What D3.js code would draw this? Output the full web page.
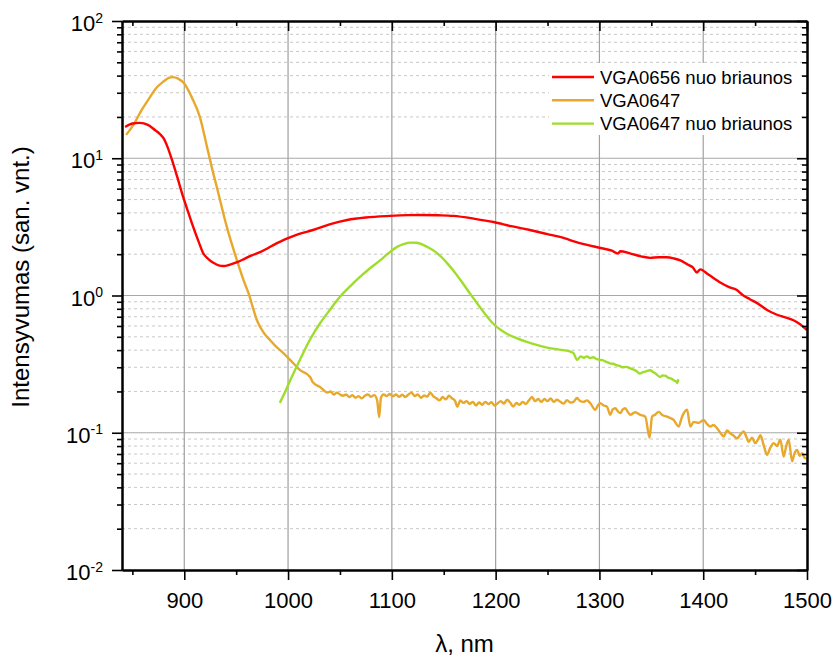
<!DOCTYPE html>
<html>
<head>
<meta charset="utf-8">
<script src="https://cdn.jsdelivr.net/npm/d3@7"></script>
<style>
  body { margin: 0; background: #fff; }
  svg { font-family: "Liberation Sans", Arial, sans-serif; }
</style>
</head>
<body>
<svg width="835" height="660"></svg>
<script>
// [wavelength nm, intensity]
const red656 = [
  [843, 16.9], [850, 17.9], [857, 18.1], [865, 17.5], [872, 16.0], [877, 14.9], [880, 14.0],
  [884, 12.0], [888, 9.8], [893, 7.4], [899, 5.2], [904, 4.0], [909, 3.1], [914, 2.45],
  [918, 2.05], [923, 1.85], [928, 1.73], [933, 1.66], [938, 1.64], [944, 1.68],
  [951, 1.75], [958, 1.85], [965, 1.96], [973, 2.07], [980, 2.2], [988, 2.38],
  [995, 2.52], [1000, 2.62], [1010, 2.8], [1024, 3.0], [1040, 3.3], [1057, 3.55],
  [1075, 3.7], [1098, 3.8], [1115, 3.85], [1127, 3.86], [1145, 3.84], [1159, 3.8],
  [1180, 3.62], [1198, 3.43], [1215, 3.2], [1233, 3.0], [1250, 2.8], [1262, 2.67],
  [1281, 2.41], [1290, 2.32], [1301, 2.22], [1312, 2.12], [1318, 2.02], [1320, 2.1],
  [1330, 2.02], [1340, 1.93], [1349, 1.88], [1357, 1.9], [1365, 1.9], [1372, 1.86],
  [1378, 1.8], [1385, 1.68], [1390, 1.6], [1394, 1.47], [1397, 1.55], [1405, 1.42],
  [1416, 1.25], [1425, 1.15], [1432, 1.1], [1438, 1.01], [1445, 0.94], [1452, 0.88],
  [1462, 0.78], [1470, 0.73], [1480, 0.69], [1487, 0.66], [1493, 0.62], [1500, 0.56]
];

const orange647 = [
  [844, 14.8], [851, 17.5], [859, 22.5], [867, 27.9], [873, 32.5], [879.5, 36],
  [885, 38.5], [889, 39], [894, 38], [900, 35], [907, 28], [915, 20], [922, 12],
  [927, 8.3], [932, 5.9], [941, 3.16], [951, 1.78], [957, 1.3], [963, 0.98],
  [966, 0.82], [970, 0.66], [977, 0.53], [983, 0.47], [989, 0.42], [992.3, 0.40],
  [1002, 0.34], [1011.6, 0.286], [1021.2, 0.255], [1024.1, 0.232], [1030.9, 0.215],
  [1034, 0.205], [1038, 0.196], [1041, 0.2], [1044, 0.19], [1047, 0.196], [1050, 0.19],
  [1053, 0.186], [1056, 0.19], [1059, 0.182], [1062, 0.188], [1065, 0.18], [1068, 0.185],
  [1071, 0.178], [1074, 0.186], [1077, 0.19], [1080, 0.183], [1083, 0.188], [1085.8, 0.173],
  [1087.8, 0.13], [1089.5, 0.18], [1092, 0.19], [1095, 0.185], [1098, 0.192], [1101, 0.184],
  [1104, 0.19], [1107, 0.183], [1110, 0.189], [1113, 0.182], [1116, 0.19], [1119, 0.196],
  [1122, 0.185], [1125, 0.19], [1128, 0.18], [1131, 0.187], [1134, 0.183], [1137, 0.196],
  [1140, 0.184], [1143, 0.178], [1146, 0.172], [1149, 0.182], [1152, 0.175], [1155, 0.186],
  [1158, 0.178], [1161, 0.17], [1163, 0.155], [1166, 0.172], [1169, 0.165], [1172, 0.17],
  [1175, 0.162], [1178, 0.168], [1181, 0.158], [1184, 0.166], [1187, 0.16], [1190, 0.168],
  [1193, 0.162], [1196, 0.167], [1199, 0.158], [1202, 0.164], [1205, 0.17], [1208, 0.163],
  [1211, 0.174], [1214, 0.166], [1217, 0.155], [1220, 0.165], [1223, 0.16], [1226, 0.168],
  [1229, 0.162], [1232, 0.172], [1235, 0.182], [1238, 0.17], [1241, 0.176], [1244, 0.168],
  [1247, 0.176], [1250, 0.17], [1253, 0.178], [1256, 0.168], [1259, 0.174], [1262.3, 0.168],
  [1265.5, 0.163], [1268.7, 0.173], [1272, 0.166], [1275.1, 0.168], [1278.4, 0.179],
  [1281.5, 0.17], [1284.7, 0.168], [1288, 0.172], [1291.2, 0.164], [1296, 0.147],
  [1298.5, 0.158], [1300.8, 0.164], [1304, 0.158], [1307.3, 0.155], [1310.4, 0.135],
  [1312.8, 0.148], [1315.3, 0.151], [1317.8, 0.143], [1320.1, 0.139], [1322.5, 0.148],
  [1324.9, 0.151], [1327.3, 0.142], [1329.7, 0.135], [1334.5, 0.141], [1339.4, 0.135],
  [1344.2, 0.131], [1348.3, 0.092], [1350.7, 0.131], [1354, 0.136], [1357, 0.142],
  [1361, 0.134], [1365.1, 0.131], [1368.3, 0.128], [1371.5, 0.124], [1376.3, 0.111],
  [1379.6, 0.131], [1384.4, 0.147], [1387.6, 0.111], [1390.8, 0.12], [1395.6, 0.118],
  [1400.4, 0.124], [1403.6, 0.116], [1406.9, 0.111], [1410, 0.114], [1413.3, 0.108],
  [1416.5, 0.1], [1419.7, 0.094], [1423, 0.104], [1426.1, 0.099], [1429.4, 0.095],
  [1432.6, 0.091], [1435.8, 0.097], [1439, 0.102], [1441.4, 0.094], [1443.8, 0.086],
  [1447, 0.092], [1450.2, 0.084], [1452.7, 0.089], [1455.1, 0.096], [1458.3, 0.081],
  [1461.5, 0.069], [1464.7, 0.078], [1467.9, 0.084], [1471.1, 0.08], [1474.3, 0.089],
  [1477.5, 0.067], [1480, 0.08], [1482.4, 0.089], [1485.6, 0.062], [1488, 0.071],
  [1490.4, 0.075], [1493, 0.068], [1495.3, 0.071], [1497.5, 0.066], [1499.4, 0.065]
];

const green647 = [
  [992, 0.165], [996, 0.19], [1002, 0.24], [1008, 0.3], [1014.5, 0.38], [1022, 0.49],
  [1031, 0.63], [1040, 0.78], [1050, 0.98], [1060, 1.17], [1069, 1.36], [1079, 1.58],
  [1089, 1.81], [1097, 2.04], [1105, 2.26], [1112, 2.38], [1118, 2.43], [1124, 2.42],
  [1130, 2.34], [1136, 2.22], [1142, 2.08], [1148, 1.9], [1153, 1.73], [1159, 1.53],
  [1167, 1.27], [1175, 1.04], [1183, 0.86], [1190, 0.73], [1197, 0.63], [1205, 0.56],
  [1212, 0.52], [1220, 0.49], [1230, 0.46], [1243, 0.43], [1255, 0.41], [1265, 0.4],
  [1272, 0.39], [1275, 0.38], [1278.5, 0.34], [1282, 0.36], [1285, 0.352], [1288, 0.36],
  [1291, 0.35], [1294, 0.355], [1297, 0.345], [1300, 0.34], [1303, 0.338], [1305, 0.333],
  [1308, 0.326], [1310, 0.32], [1313, 0.318], [1317, 0.31], [1320, 0.306], [1322, 0.3],
  [1326, 0.302], [1330, 0.294], [1333, 0.288], [1336, 0.28], [1339, 0.27], [1342, 0.276],
  [1345, 0.28], [1349, 0.285], [1352, 0.276], [1354, 0.27], [1358.6, 0.255], [1361, 0.262],
  [1364, 0.26], [1366, 0.252], [1368, 0.25], [1370, 0.246], [1372, 0.24], [1374, 0.236],
  [1375, 0.23], [1376, 0.245]
];

const seriesNames = ["VGA0656 nuo briaunos", "VGA0647", "VGA0647 nuo briaunos"];
const seriesColors = ["#ff0000", "#e8a82c", "#9ede2a"];
const seriesData = [red656, orange647, green647];

const xMajor = [900, 1000, 1100, 1200, 1300, 1400, 1500];
const xMinor = [850, 950, 1050, 1150, 1250, 1350, 1450];
const yMajor = [1e-2, 1e-1, 1, 10, 100];

const yMinor = [];
yMajor.slice(0, -1).forEach(d => {
  for (let k = 2; k <= 9; k++) yMinor.push(d * k);
});

const plotLeft = 122, plotRight = 807, plotTop = 21, plotBottom = 570;

const svg = d3.select('svg');

const x = d3.scaleLinear().domain([840, 1500]).range([plotLeft, plotRight]);
const y = d3.scaleLog().domain([1e-2, 1e2]).range([plotBottom, plotTop]);

// grid
svg.append('g')
  .selectAll('line')
  .data(yMinor)
  .enter()
  .append('line')
  .attr('x1', plotLeft).attr('x2', plotRight)
  .attr('y1', d => y(d)).attr('y2', d => y(d))
  .attr('stroke', '#c8c8c8')
  .attr('stroke-width', 1)
  .attr('stroke-dasharray', '3,3');

svg.append('g')
  .selectAll('line')
  .data(yMajor.slice(1, -1))
  .enter()
  .append('line')
  .attr('x1', plotLeft).attr('x2', plotRight)
  .attr('y1', d => y(d)).attr('y2', d => y(d))
  .attr('stroke', '#a8a8a8')
  .attr('stroke-width', 1.2);

svg.append('g')
  .selectAll('line')
  .data(xMajor.slice(0, -1))
  .enter()
  .append('line')
  .attr('x1', d => x(d)).attr('x2', d => x(d))
  .attr('y1', plotTop).attr('y2', plotBottom)
  .attr('stroke', '#a0a0a0')
  .attr('stroke-width', 1.2);

// curves
svg.append('clipPath').attr('id', 'plot')
  .append('rect')
  .attr('x', plotLeft).attr('y', plotTop)
  .attr('width', plotRight - plotLeft).attr('height', plotBottom - plotTop);

const line = d3.line()
  .x(d => x(d[0]))
  .y(d => y(d[1]))
  .curve(d3.curveMonotoneX);

svg.append('g')
  .attr('clip-path', 'url(#plot)')
  .selectAll('path')
  .data([1, 2, 0])
  .enter()
  .append('path')
  .attr('d', i => line(seriesData[i]))
  .attr('fill', 'none')
  .attr('stroke', i => seriesColors[i])
  .attr('stroke-width', 2.4)
  .attr('stroke-linejoin', 'round');

// axes
function styleAxis(g) {
  g.select('.domain').attr('stroke', '#000').attr('stroke-width', 2);
  g.selectAll('.tick line').attr('stroke', '#000').attr('stroke-width', 1.6);
  g.selectAll('.tick text').attr('fill', '#000').attr('font-size', '22px');
}

svg.append('g')
  .attr('transform', `translate(0,${plotBottom})`)
  .call(d3.axisBottom(x).tickValues(xMajor).tickSize(10).tickPadding(12)
    .tickSizeOuter(0).tickFormat(d3.format('d')))
  .call(styleAxis);

svg.append('g')
  .attr('transform', `translate(0,${plotBottom})`)
  .call(d3.axisBottom(x).tickValues(xMinor).tickSize(5).tickFormat('').tickSizeOuter(0))
  .call(styleAxis);

svg.append('g')
  .attr('transform', `translate(0,${plotTop})`)
  .call(d3.axisBottom(x).tickValues(xMajor).tickSize(10).tickFormat('').tickSizeOuter(0))
  .call(styleAxis);

svg.append('g')
  .attr('transform', `translate(0,${plotTop})`)
  .call(d3.axisBottom(x).tickValues(xMinor).tickSize(5).tickFormat('').tickSizeOuter(0))
  .call(styleAxis);

const yAxisG = svg.append('g')
  .attr('transform', `translate(${plotLeft},0)`)
  .call(d3.axisLeft(y).tickValues(yMajor).tickSize(10).tickPadding(9).tickSizeOuter(0).tickFormat(''))
  .call(styleAxis);

yAxisG.selectAll('.tick text')
  .attr('dy', '0.44em')
  .each(function(d) {
    const t = d3.select(this);
    t.append('tspan').text('10');
    t.append('tspan')
      .attr('dy', '-0.62em')
      .attr('font-size', '14px')
      .text(Math.round(Math.log10(d)));
  });

svg.append('g')
  .attr('transform', `translate(${plotLeft},0)`)
  .call(d3.axisLeft(y).tickValues(yMinor).tickSize(5).tickFormat('').tickSizeOuter(0))
  .call(styleAxis);

svg.append('g')
  .attr('transform', `translate(${plotRight},0)`)
  .call(d3.axisLeft(y).tickValues(yMajor).tickSize(10).tickFormat('').tickSizeOuter(0))
  .call(styleAxis);

svg.append('g')
  .attr('transform', `translate(${plotRight},0)`)
  .call(d3.axisLeft(y).tickValues(yMinor).tickSize(5).tickFormat('').tickSizeOuter(0))
  .call(styleAxis);

// axis titles
svg.append('text')
  .attr('x', (plotLeft + plotRight) / 2)
  .attr('y', 652)
  .attr('text-anchor', 'middle')
  .attr('font-size', '24px')
  .text('λ, nm');

svg.append('text')
  .attr('transform', 'translate(29,277) rotate(-90)')
  .attr('text-anchor', 'middle')
  .attr('font-size', '24px')
  .text('Intensyvumas (san. vnt.)');

// legend
svg.append('rect')
  .attr('x', 549).attr('y', 63)
  .attr('width', 252).attr('height', 72)
  .attr('fill', '#fff');

const legend = svg.append('g')
  .selectAll('g')
  .data(seriesNames)
  .enter()
  .append('g')
  .attr('transform', (d, i) => `translate(552,${77 + i * 23.3})`);

legend.append('line')
  .attr('x1', 0).attr('x2', 42)
  .attr('stroke', (d, i) => seriesColors[i])
  .attr('stroke-width', 2.4);

legend.append('text')
  .attr('x', 48)
  .attr('y', 6.5)
  .attr('font-size', '18.5px')
  .text(d => d);
</script>
</body>
</html>
